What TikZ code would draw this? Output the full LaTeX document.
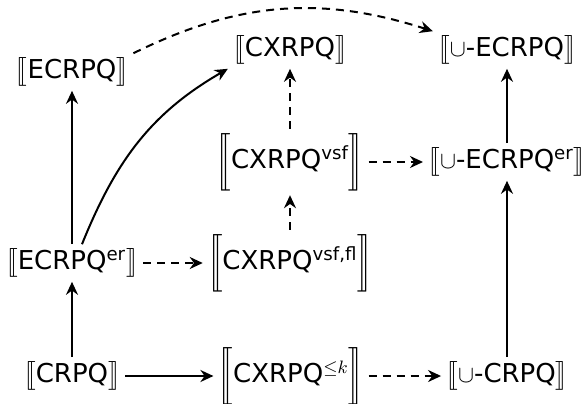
\documentclass[tikz,border=0pt]{standalone}
\usepackage{amsmath}
\usepackage{stmaryrd}
\usepackage{fontspec}
\setsansfont{DejaVu Sans}
\usetikzlibrary{arrows.meta}
\newcommand{\sem}[1]{$\big\llbracket$#1$\big\rrbracket$}
\newcommand{\bigsem}[1]{$\bigg\llbracket$#1$\bigg\rrbracket$}
\newcommand{\upsf}[1]{\textsuperscript{#1}}
\tikzset{every picture/.append style={font=\sffamily\fontsize{13}{15}\selectfont}}

\begin{document}
\begin{tikzpicture}[x=0.5pt,y=-0.5pt,
    every node/.style={inner sep=2pt},
    solidarr/.style={-{Stealth[length=6.5pt,width=6pt]},line width=1pt},
    dasharr/.style={solidarr,dash pattern=on 4pt off 3pt}]
  \useasboundingbox (0,0) rectangle (585,403);
  % top row
  \node (ecrpq) at (72,72) {\sem{ECRPQ}};
  \node (cxrpq) at (290,50) {\sem{CXRPQ}};
  \node (uecrpq) at (507,50) {\sem{$\cup$-ECRPQ}};
  % middle rows
  \node (cxvsf) at (290,162) {\bigsem{CXRPQ\upsf{vsf}}};
  \node (uecer) at (507,162) {\sem{$\cup$-ECRPQ\upsf{er}}};
  \node (ecer) at (72,263) {\sem{ECRPQ\upsf{er}}};
  \node (cxfl) at (290,263) {\bigsem{CXRPQ\upsf{vsf,fl}}};
  % bottom row
  \node (crpq) at (72,376) {\sem{CRPQ}};
  \node (cxk) at (291,376) {\bigsem{CXRPQ\upsf{${\leq}k$}}};
  \node (ucrpq) at (507,376) {\sem{$\cup$-CRPQ}};
  % solid arrows
  \draw[solidarr] (crpq) -- (ecer);
  \draw[solidarr] (ecer) -- (ecrpq);
  \draw[solidarr] (crpq) -- (cxk);
  \draw[solidarr] (ecer.62) to[out=68,in=-150] (cxrpq.south west);
  \draw[solidarr] (ucrpq) -- (uecer);
  \draw[solidarr] (uecer) -- (uecrpq);
  % dashed arrows
  \draw[dasharr] (ecer) -- (cxfl);
  \draw[dasharr] (cxfl) -- (cxvsf);
  \draw[dasharr] (cxvsf) -- (cxrpq);
  \draw[dasharr] (cxvsf) -- (uecer);
  \draw[dasharr] (cxk) -- (ucrpq);
  \draw[dasharr] (ecrpq.north east) to[bend left=22] (uecrpq.north west);
\end{tikzpicture}
\end{document}
